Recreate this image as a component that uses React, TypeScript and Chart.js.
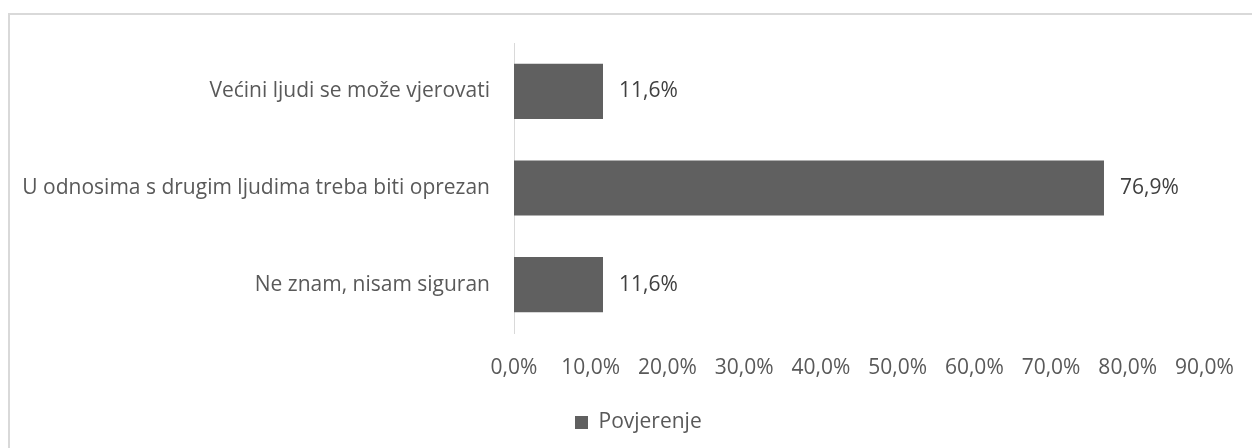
import React, { useEffect, useRef } from "react";
import { Chart, registerables } from "chart.js";

Chart.register(...registerables);

const categories = [
  "Većini ljudi se može vjerovati",
  "U odnosima s drugim ljudima treba biti oprezan",
  "Ne znam, nisam siguran",
];
const values = [11.6, 76.9, 11.6];
const seriesName = "Povjerenje";
const xMin = 0;
const xMax = 90;
const xStep = 10;

const FONT = "'Open Sans', 'Noto Sans', sans-serif";
const FS = 21;
const fmt = (v: number) => v.toFixed(1).replace(".", ",") + "%";

const dataLabels = {
  id: "dataLabels",
  afterDatasetsDraw(chart: any) {
    const ctx = chart.ctx;
    const meta = chart.getDatasetMeta(0);
    ctx.save();
    ctx.font = `${FS}px ${FONT}`;
    ctx.fillStyle = "#404040";
    ctx.textAlign = "left";
    ctx.textBaseline = "middle";
    meta.data.forEach((el: any, i: number) => {
      ctx.fillText(fmt(chart.data.datasets[0].data[i]), el.x + 16, el.y);
    });
    ctx.restore();
  },
};

const legendShift = {
  id: "legendShift",
  afterLayout(chart: any) {
    const lg = chart.legend;
    if (lg) {
      const w = lg.right - lg.left;
      lg.left = 555;
      lg.right = 555 + w;
      lg.top += 3;
      lg.bottom += 3;
    }
  },
};

export default function App() {
  const ref = useRef<HTMLCanvasElement | null>(null);
  useEffect(() => {
    document.body.style.overflow = "hidden";
    const chart = new Chart(ref.current as HTMLCanvasElement, {
      type: "bar",
      data: {
        labels: categories,
        datasets: [
          {
            label: seriesName,
            data: values,
            backgroundColor: "#606060",
            borderWidth: 0,
            categoryPercentage: 1,
            barPercentage: 0.57,
          },
        ],
      },
      options: {
        indexAxis: "y",
        responsive: false,
        animation: false,
        layout: { padding: { top: 28, left: 0, right: 47.5, bottom: 8 } },
        scales: {
          x: {
            min: xMin,
            max: xMax,
            grid: { display: false, drawTicks: false },
            border: { display: false },
            ticks: {
              stepSize: xStep,
              padding: 22,
              color: "#595959",
              font: { family: FONT, size: FS },
              callback: (v: any) => fmt(Number(v)),
            },
            afterFit: (s: any) => {
              s.height = 66;
              s.paddingLeft = 0;
              s.paddingRight = 0;
            },
          },
          y: {
            grid: { display: false, drawTicks: false },
            border: { display: true, color: "#d9d9d9", width: 1 },
            ticks: {
              padding: 24,
              color: "#595959",
              font: { family: FONT, size: FS },
            },
            afterFit: (s: any) => {
              s.width = 504;
              s.paddingTop = 0;
              s.paddingBottom = 0;
            },
          },
        },
        plugins: {
          legend: {
            display: true,
            position: "bottom",
            align: "start",
            labels: {
              boxWidth: 13,
              boxHeight: 13,
              padding: 10,
              color: "#595959",
              font: { family: FONT, size: FS },
            },
          },
          tooltip: { enabled: false },
        },
      },
      plugins: [dataLabels, legendShift],
    });
    return () => chart.destroy();
  }, []);

  return (
    <div
      style={{
        position: "fixed",
        left: 8,
        top: 13,
        width: 1244,
        height: 435,
        boxSizing: "border-box",
        borderTop: "2px solid #d9d9d9",
        borderLeft: "2px solid #d9d9d9",
        background: "#fff",
      }}
    >
      <canvas ref={ref} width={1242} height={433} style={{ display: "block" }} />
    </div>
  );
}
